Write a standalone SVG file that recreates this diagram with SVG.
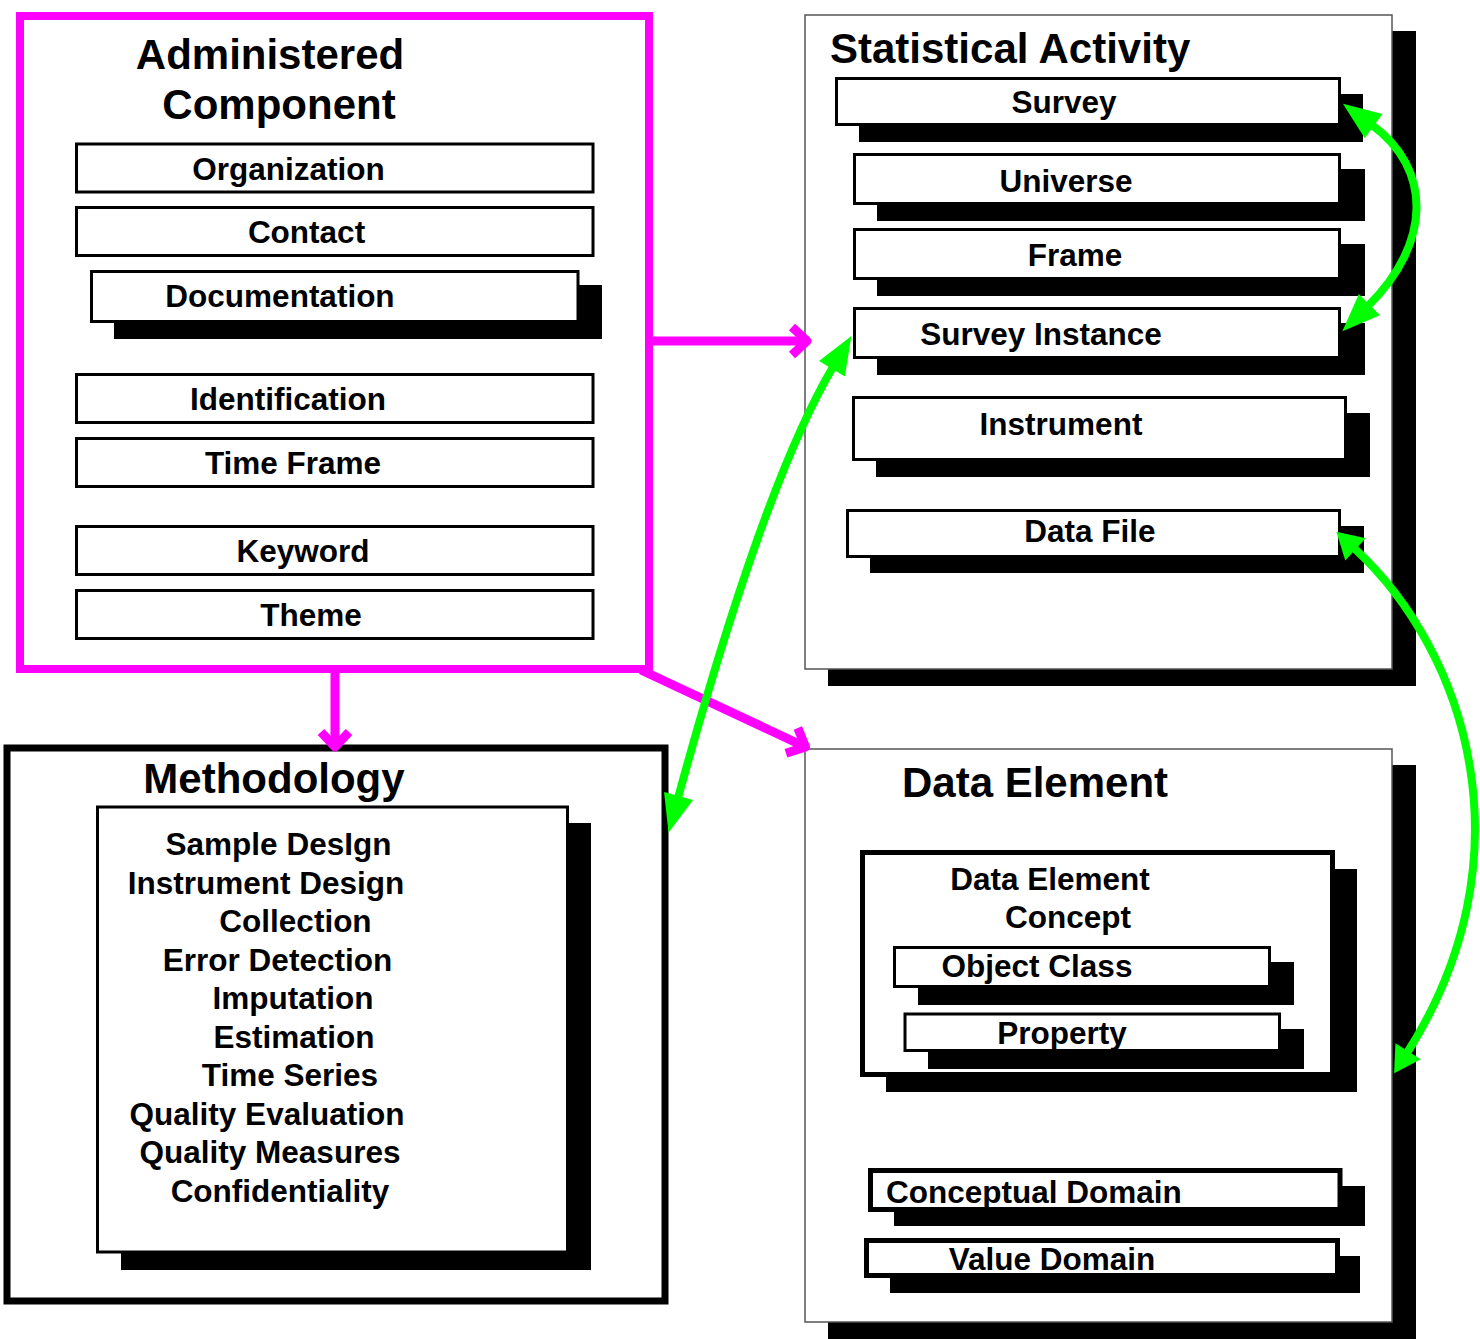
<svg xmlns="http://www.w3.org/2000/svg" width="1480" height="1339" viewBox="0 0 1480 1339">
<style>
.t{font-family:"Liberation Sans",Arial,Helvetica,sans-serif;font-weight:bold;fill:#000}
.h{font-size:42px}
.l{font-size:31.5px;text-anchor:middle}
.box{fill:#fff;stroke:#000;stroke-width:3}
.box5{fill:#fff;stroke:#000;stroke-width:5}
.sh{fill:#000}
.frame{fill:#fff;stroke:#555;stroke-width:1.5}
.mag{fill:none;stroke:#f0f;stroke-width:9}
.grn{fill:none;stroke:#0f0;stroke-width:8}
</style>
<defs>
<marker id="mh" markerUnits="userSpaceOnUse" orient="auto" refX="0" refY="0" markerWidth="40" markerHeight="40" overflow="visible" style="overflow:visible">
<path d="M-15,-14 L0,0 L-15,14" fill="none" stroke="#f0f" stroke-width="9" stroke-linejoin="round"/>
</marker>
<marker id="gh" markerUnits="userSpaceOnUse" orient="auto-start-reverse" refX="2" refY="0" markerWidth="40" markerHeight="40" overflow="visible" style="overflow:visible">
<path d="M0,-15 L38,0 L0,15 z" fill="#0f0"/>
</marker>
<marker id="gs" markerUnits="userSpaceOnUse" orient="auto-start-reverse" refX="2" refY="0" markerWidth="40" markerHeight="40" overflow="visible" style="overflow:visible">
<path d="M0,-15 L26,0 L0,15 z" fill="#0f0"/>
</marker>
</defs>

<g id="administered-component">
<rect x="20" y="16" width="629" height="653" fill="#fff" stroke="#f0f" stroke-width="8"/>
<text class="t h" x="270" y="69" text-anchor="middle">Administered</text>
<text class="t h" x="279" y="119" text-anchor="middle">Component</text>
<g id="organization"><rect class="box" x="76.5" y="144" width="516.5" height="48"/><text class="t l" x="288.5" y="180">Organization</text></g>
<g id="contact"><rect class="box" x="76.5" y="207.5" width="516.5" height="48"/><text class="t l" x="306.5" y="243">Contact</text></g>
<g id="documentation"><rect class="sh" x="114" y="285" width="488" height="54"/><rect class="box" x="91.5" y="271.5" width="486.5" height="50"/><text class="t l" x="280" y="307">Documentation</text></g>
<g id="identification"><rect class="box" x="76.5" y="374.5" width="516.5" height="48"/><text class="t l" x="288" y="410">Identification</text></g>
<g id="time-frame"><rect class="box" x="76.5" y="438.5" width="516.5" height="48"/><text class="t l" x="293" y="474">Time Frame</text></g>
<g id="keyword"><rect class="box" x="76.5" y="526.5" width="516.5" height="48"/><text class="t l" x="303" y="562">Keyword</text></g>
<g id="theme"><rect class="box" x="76.5" y="590.5" width="516.5" height="48"/><text class="t l" x="311" y="626">Theme</text></g>
</g>

<g id="statistical-activity">
<rect class="sh" x="828" y="31" width="588" height="655"/>
<rect class="frame" x="805" y="15" width="587" height="654"/>
<text class="t h" x="830" y="63">Statistical Activity</text>
<g id="survey"><rect class="sh" x="859" y="94" width="504" height="48"/><rect class="box" x="836.5" y="78.5" width="503" height="46"/><text class="t l" x="1064" y="113">Survey</text></g>
<g id="universe"><rect class="sh" x="877" y="169" width="488" height="52"/><rect class="box" x="854.5" y="154.5" width="485" height="49"/><text class="t l" x="1066" y="191.5">Universe</text></g>
<g id="frame"><rect class="sh" x="877" y="244" width="488" height="52"/><rect class="box" x="854.5" y="229.5" width="485" height="49"/><text class="t l" x="1075" y="266">Frame</text></g>
<g id="survey-instance"><rect class="sh" x="877" y="323" width="488" height="52"/><rect class="box" x="854.5" y="308.5" width="485" height="49"/><text class="t l" x="1041" y="345">Survey Instance</text></g>
<g id="instrument"><rect class="sh" x="876" y="413" width="494" height="64"/><rect class="box" x="853.5" y="397.5" width="492" height="62"/><text class="t l" x="1061" y="435">Instrument</text></g>
<g id="data-file"><rect class="sh" x="870" y="526" width="494" height="47"/><rect class="box" x="847.5" y="510.5" width="492" height="46"/><text class="t l" x="1090" y="541.5">Data File</text></g>
</g>

<g id="methodology">
<rect x="7" y="748" width="658" height="553" fill="#fff" stroke="#000" stroke-width="7"/>
<text class="t h" x="274" y="793" text-anchor="middle">Methodology</text>
<rect class="sh" x="121" y="823" width="470" height="447"/>
<rect class="box" x="97.5" y="807" width="470" height="445"/>
<text class="t l" x="278.5" y="855">Sample DesIgn</text>
<text class="t l" x="266" y="893.5">Instrument Design</text>
<text class="t l" x="295.5" y="932">Collection</text>
<text class="t l" x="277.5" y="970.5">Error Detection</text>
<text class="t l" x="293" y="1009">Imputation</text>
<text class="t l" x="294" y="1047.5">Estimation</text>
<text class="t l" x="290" y="1086">Time Series</text>
<text class="t l" x="267" y="1124.5">Quality Evaluation</text>
<text class="t l" x="270" y="1163">Quality Measures</text>
<text class="t l" x="280" y="1201.5">Confidentiality</text>
</g>

<g id="data-element">
<rect class="sh" x="828" y="765" width="588" height="574"/>
<rect class="frame" x="805" y="749" width="587" height="573"/>
<text class="t h" x="1035" y="797" text-anchor="middle">Data Element</text>
<g id="data-element-concept">
<rect class="sh" x="886" y="869" width="471" height="223"/>
<rect class="box5" x="862.5" y="852.5" width="470" height="222"/>
<text class="t l" x="1050" y="890">Data Element</text>
<text class="t l" x="1068" y="928">Concept</text>
<g id="object-class"><rect class="sh" x="918" y="962" width="376" height="43"/><rect class="box" x="894.5" y="947.5" width="375" height="39"/><text class="t l" x="1037" y="977">Object Class</text></g>
<g id="property"><rect class="sh" x="928" y="1029" width="376" height="40"/><rect class="box" x="905" y="1014" width="374.5" height="36.5"/><text class="t l" x="1062" y="1044">Property</text></g>
</g>
<g id="conceptual-domain"><rect class="sh" x="894" y="1186" width="471" height="40"/><rect class="box5" x="870.5" y="1170.5" width="469.5" height="39"/><text class="t" style="font-size:31.5px" x="886" y="1203">Conceptual Domain</text></g>
<g id="value-domain"><rect class="sh" x="890" y="1256" width="470" height="37"/><rect class="box5" x="866.5" y="1240.5" width="471" height="35"/><text class="t l" x="1052" y="1270">Value Domain</text></g>
</g>

<g id="connectors">
<path class="mag" d="M649,341 L807,341" marker-end="url(#mh)"/>
<path class="mag" d="M335,669 L335,747" marker-end="url(#mh)"/>
<path class="mag" d="M641,670 L805.5,747" marker-end="url(#mh)"/>
<path class="grn" d="M1372,125 C1432,169 1432,243 1368,306" marker-start="url(#gh)" marker-end="url(#gh)"/>
<path class="grn" d="M833,367 Q764,483 678,798" marker-start="url(#gh)" marker-end="url(#gh)"/>
<path class="grn" d="M1354,548 C1470,655 1530,860 1407,1053" marker-start="url(#gs)" marker-end="url(#gs)"/>
</g>
</svg>
